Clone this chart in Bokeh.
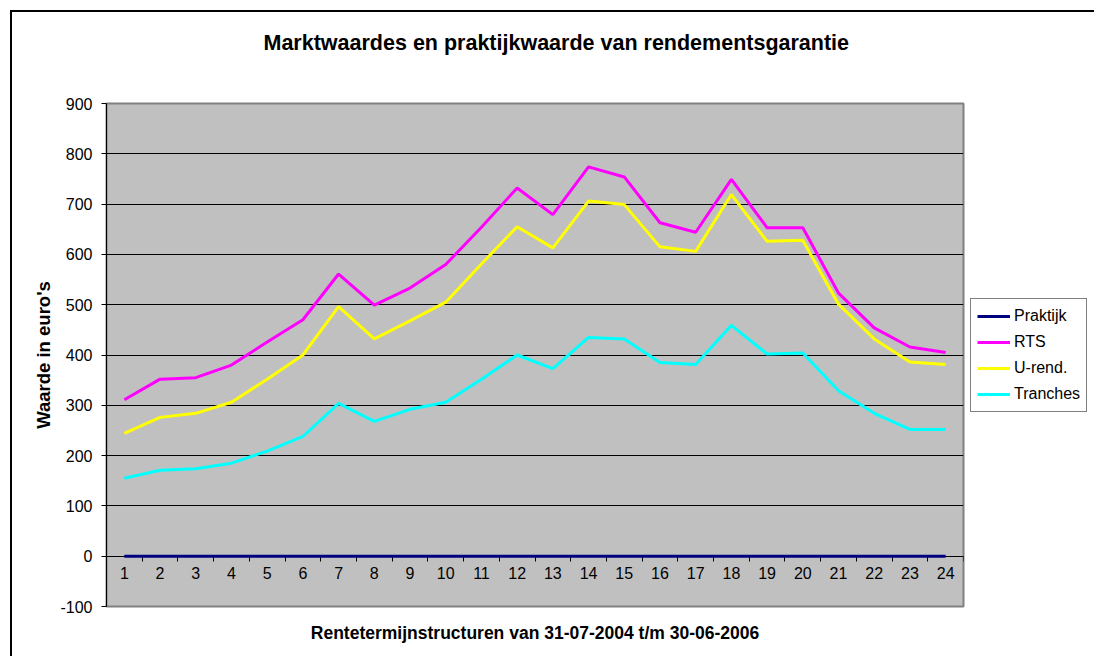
from bokeh.plotting import figure
from bokeh.models import FixedTicker, Legend, LegendItem, Title, PrintfTickFormatter
from bokeh.embed import file_html
from bokeh.resources import INLINE

# ---- data ----
categories = list(range(1, 25))
praktijk = [0] * 24
rts = [311, 352, 355, 380, 426, 470, 561, 499, 533, 580, 654, 732,
       679, 774, 754, 663, 644, 749, 653, 653, 523, 454, 416, 405]
urend = [244, 276, 284, 306, 352, 400, 496, 432, 468, 505, 581, 655,
         613, 706, 699, 615, 606, 719, 626, 628, 501, 432, 386, 381]
tranches = [155, 171, 174, 185, 209, 238, 304, 268, 292, 306, 352, 400,
            373, 435, 432, 385, 381, 459, 402, 404, 329, 284, 252, 252]
series_names = ["Praktijk", "RTS", "U-rend.", "Tranches"]
series_colors = ["#000080", "#FF00FF", "#FFFF00", "#00FFFF"]
y_ticks = list(range(-100, 1000, 100))

title_text = "Marktwaardes en praktijkwaarde van rendementsgarantie"
x_title = "Rentetermijnstructuren van 31-07-2004 t/m 30-06-2006"
y_title = "Waarde in euro's"

FONT = "Liberation Sans"

p = figure(frame_width=857, frame_height=503,
           x_range=(0.5, 24.5), y_range=(-100, 900),
           output_backend="svg", toolbar_location=None,
           min_border_left=106, min_border_right=131,
           min_border_top=103, min_border_bottom=49,
           background_fill_color="#C0C0C0",
           border_fill_color="white", border_fill_alpha=0,
           outline_line_color="#808080", outline_line_width=2)

# outer chart-area border (top and left edges), drawn behind the transparent canvas border
p.styles = {"box-shadow": "inset 10px 10px 0 0 white, inset 12px 12px 0 0 black"}

# x axis crossing at 0, categories with ticks between them
p.xaxis.ticker = FixedTicker(ticks=categories,
                             minor_ticks=[c - 0.5 for c in categories] + [categories[-1] + 0.5])
p.xaxis.fixed_location = 0
p.xaxis.major_tick_line_color = None
p.xaxis.minor_tick_line_color = "black"
p.xaxis.minor_tick_out = 5
p.xaxis.minor_tick_in = 0
p.xaxis.axis_line_color = "black"
p.xaxis.major_label_text_font = FONT
p.xaxis.major_label_text_font_size = "16px"
p.xaxis.major_label_text_color = "black"
p.xaxis.major_label_standoff = 5

# y axis
p.yaxis.ticker = FixedTicker(ticks=y_ticks)
p.yaxis.formatter = PrintfTickFormatter(format="%d")
p.yaxis.major_tick_out = 5
p.yaxis.major_tick_in = 0
p.yaxis.minor_tick_line_color = None
p.yaxis.major_tick_line_color = "black"
p.yaxis.axis_line_color = "black"
p.yaxis.major_label_text_font = FONT
p.yaxis.major_label_text_font_size = "16px"
p.yaxis.major_label_text_color = "black"
p.yaxis.major_label_standoff = 9
p.yaxis.axis_label = y_title
p.yaxis.axis_label_text_font = FONT
p.yaxis.axis_label_text_font_size = "18.5px"
p.yaxis.axis_label_text_font_style = "bold"
p.yaxis.axis_label_text_color = "black"
p.yaxis.axis_label_standoff = 3

p.xgrid.visible = False
p.ygrid.ticker = FixedTicker(ticks=y_ticks)
p.ygrid.grid_line_color = "black"
p.ygrid.grid_line_width = 1

# lines
renderers = []
for name, vals, col in zip(series_names, [praktijk, rts, urend, tranches], series_colors):
    r = p.line(categories, vals, line_color=col, line_width=3)
    renderers.append(r)
renderers[0].level = "annotation"

legend = Legend(items=[LegendItem(label=n, renderers=[r]) for n, r in zip(series_names, renderers)],
                location="center_left")
legend.label_text_font = FONT
legend.label_text_font_size = "16px"
legend.label_text_color = "black"
legend.glyph_width = 33
legend.glyph_height = 22
legend.label_height = 22
legend.label_standoff = 4
legend.spacing = 4
legend.padding = 6
legend.margin = 7
legend.border_line_color = "black"
legend.border_line_width = 1
legend.background_fill_color = "white"
legend.background_fill_alpha = 1
p.add_layout(legend, "right")

# titles: a spacer keeps the chart title higher above the plot area
spacer = Title(text=" ", standoff=46, text_font_size="1px")
p.add_layout(spacer, "above")
t = Title(text=title_text, align="left", offset=157, standoff=0,
          text_font=FONT, text_font_size="21.5px", text_font_style="bold", text_color="black")
p.add_layout(t, "above")

xt = Title(text=x_title, align="center", standoff=28,
           text_font=FONT, text_font_size="17.5px", text_font_style="bold", text_color="black")
p.add_layout(xt, "below")

open("out.html", "w").write(file_html(p, INLINE))
